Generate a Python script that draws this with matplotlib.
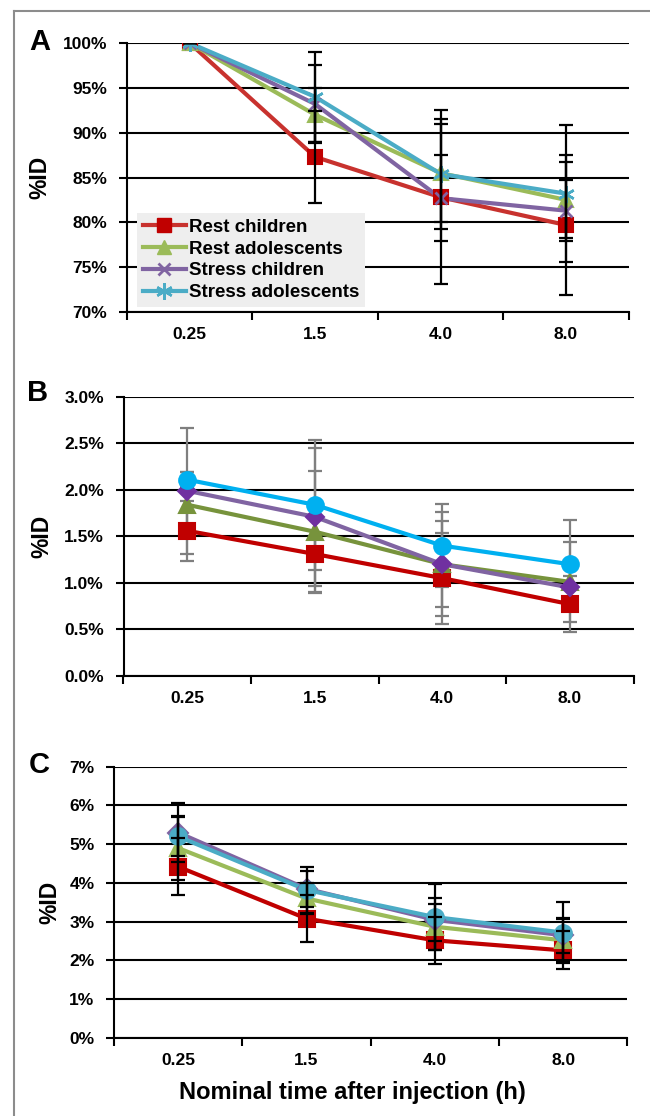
import matplotlib
matplotlib.use("Agg")
import matplotlib.pyplot as plt
from matplotlib.lines import Line2D
import numpy as np

plt.rcParams['font.family'] = ['Liberation Sans', 'DejaVu Sans']
plt.rcParams['font.weight'] = 'bold'

# ---------------- data ----------------
times = ["0.25", "1.5", "4.0", "8.0"]
series_names = ["Rest children", "Rest adolescents", "Stress children", "Stress adolescents"]

# Panel A (%ID, normalised)
a_rest_children = [100, 87.3, 82.8, 79.7]
a_rest_children_err = [0, 5.1, 9.7, 7.8]
a_rest_adol = [100, 92.0, 85.5, 82.5]
a_rest_adol_err = [0, 3.0, 5.5, 4.2]
a_stress_children = [100, 93.2, 82.7, 81.3]
a_stress_children_err = [0, 4.3, 4.8, 3.4]
a_stress_adol = [100, 94.0, 85.4, 83.2]
a_stress_adol_err = [0, 5.0, 6.1, 7.6]

# Panel B (%ID)
b_rest_children = [1.56, 1.31, 1.05, 0.77]
b_rest_children_err = [0.32, 0.42, 0.49, 0.30]
b_rest_adol = [1.84, 1.55, 1.20, 1.01]
b_rest_adol_err = [0.35, 0.65, 0.46, 0.43]
b_stress_children = [1.99, 1.71, 1.20, 0.95]
b_stress_children_err = [0.68, 0.74, 0.56, 0.20]
b_stress_adol = [2.11, 1.84, 1.40, 1.20]
b_stress_adol_err = [0.08, 0.70, 0.45, 0.48]

# Panel C (%ID)
c_rest_children = [4.42, 3.08, 2.52, 2.26]
c_rest_children_err = [0.74, 0.60, 0.60, 0.49]
c_rest_adol = [4.90, 3.60, 2.87, 2.52]
c_rest_adol_err = [0.83, 0.40, 0.60, 0.55]
c_stress_children = [5.30, 3.85, 3.05, 2.65]
c_stress_children_err = [0.76, 0.46, 0.55, 0.45]
c_stress_adol = [5.20, 3.82, 3.12, 2.72]
c_stress_adol_err = [0.51, 0.59, 0.86, 0.79]

a_ticks = [70, 75, 80, 85, 90, 95, 100]
a_ticklabels = ["70%", "75%", "80%", "85%", "90%", "95%", "100%"]
b_ticks = [0.0, 0.5, 1.0, 1.5, 2.0, 2.5, 3.0]
b_ticklabels = ["0.0%", "0.5%", "1.0%", "1.5%", "2.0%", "2.5%", "3.0%"]
c_ticks = [0, 1, 2, 3, 4, 5, 6, 7]
c_ticklabels = ["0%", "1%", "2%", "3%", "4%", "5%", "6%", "7%"]

xlabel = "Nominal time after injection (h)"

# ---------------- layout ----------------
W, H = 650, 1116
fig = plt.figure(figsize=(W / 100, H / 100), dpi=100)


def px_axes(left, right, top, bottom):
    return fig.add_axes([left / W, 1 - bottom / H, (right - left) / W, (bottom - top) / H])


def style_axes(ax, ticks, ticklabels, ylim, ylab_x_px, left_px, right_px):
    x = np.arange(len(times))
    ax.set_xlim(-0.5, len(times) - 0.5)
    ax.set_ylim(*ylim)
    ax.set_yticks(ticks)
    ax.set_yticklabels(ticklabels)
    ax.set_xticks(np.arange(-0.5, len(times), 1.0))
    ax.set_xticklabels([])
    ax.set_xticks(x, minor=True)
    ax.set_xticklabels(times, minor=True)
    ax.tick_params(axis='x', which='minor', length=0, pad=11, labelsize=12.5)
    ax.tick_params(axis='x', which='major', length=6, width=1.5, direction='out')
    ax.tick_params(axis='y', length=6, width=1.5, direction='out', pad=8, labelsize=12.5)
    for lab in ax.get_xticklabels(minor=True) + ax.get_yticklabels():
        lab.set_fontweight('bold')
    ax.grid(axis='y', color='black', linewidth=1.5, zorder=0)
    ax.set_axisbelow(True)
    for s in ['top', 'right']:
        ax.spines[s].set_visible(False)
    ax.spines['left'].set_linewidth(1.5)
    ax.spines['bottom'].set_linewidth(1.5)
    ax.set_ylabel("%ID", fontsize=16.5, fontweight='bold')
    ax.yaxis.set_label_coords((ylab_x_px - left_px) / (right_px - left_px), 0.5)


def plot_series(ax, vals, errs, line_color, marker, mcolor, msize, ecolor, label=None, mew=1.5, zo=3):
    x = np.arange(len(times))
    ax.errorbar(x, vals, yerr=errs, fmt='none', ecolor=ecolor, elinewidth=1.6,
                capsize=5, capthick=1.6, zorder=zo + 1 if ecolor == 'black' else zo - 1)
    ax.plot(x, vals, color=line_color, linewidth=3, zorder=zo, label=label)
    ax.plot(x, vals, linestyle='none', marker=marker, markersize=msize,
            markerfacecolor=mcolor, markeredgecolor=mcolor, markeredgewidth=mew, zorder=zo + 0.5)


# Panel A
A_L, A_R, A_T, A_B = 126.8, 628.8, 43, 312
axA = px_axes(A_L, A_R, A_T, A_B)
style_axes(axA, a_ticks, a_ticklabels, (70, 100), 51, A_L, A_R)
red_a, green_a, purple_a, aqua_a = '#C8322E', '#9BBB59', '#8064A2', '#4BACC6'
asterisk = (6, 2, 0)
plot_series(axA, a_rest_children, a_rest_children_err, red_a, 's', '#C00000', 10, 'black')
plot_series(axA, a_rest_adol, a_rest_adol_err, green_a, '^', green_a, 10, 'black')
plot_series(axA, a_stress_children, a_stress_children_err, purple_a, 'x', purple_a, 9, 'black', mew=2)
plot_series(axA, a_stress_adol, a_stress_adol_err, aqua_a, asterisk, aqua_a, 12, 'black', mew=1.8)

handles = [
    Line2D([], [], color=red_a, lw=3, marker='s', ms=10, mfc='#C00000', mec='#C00000'),
    Line2D([], [], color=green_a, lw=3, marker='^', ms=10, mfc=green_a, mec=green_a),
    Line2D([], [], color=purple_a, lw=3, marker='x', ms=9, mew=2, mec=purple_a),
    Line2D([], [], color=aqua_a, lw=3, marker=asterisk, ms=12, mew=1.8, mec=aqua_a),
]
leg = axA.legend(handles, series_names, loc='upper left',
                 bbox_to_anchor=((137 - A_L) / (A_R - A_L), (A_B - 213) / (A_B - A_T)),
                 frameon=True, fancybox=False, facecolor='#eeeeee', edgecolor='none', framealpha=1,
                 prop={'weight': 'bold', 'size': 13.5}, handlelength=2.3, handletextpad=0.15,
                 labelspacing=0.25, borderpad=0.3, borderaxespad=0)
leg.set_zorder(10)

# Panel B
B_L, B_R, B_T, B_B = 123.5, 633.6, 397, 675.7
axB = px_axes(B_L, B_R, B_T, B_B)
style_axes(axB, b_ticks, b_ticklabels, (0, 3.0), 53, B_L, B_R)
gray = '#7f7f7f'
plot_series(axB, b_rest_children, b_rest_children_err, '#C00000', 's', '#C00000', 11, gray)
plot_series(axB, b_rest_adol, b_rest_adol_err, '#77933C', '^', '#77933C', 11, gray)
plot_series(axB, b_stress_children, b_stress_children_err, '#8064A2', 'D', '#7030A0', 9, gray)
plot_series(axB, b_stress_adol, b_stress_adol_err, '#00B0F0', 'o', '#00B0F0', 12, gray)

# Panel C
C_L, C_R, C_T, C_B = 114, 627.4, 766.7, 1038
axC = px_axes(C_L, C_R, C_T, C_B)
style_axes(axC, c_ticks, c_ticklabels, (0, 7), 61, C_L, C_R)
plot_series(axC, c_rest_children, c_rest_children_err, '#C00000', 's', '#C00000', 11, 'black')
plot_series(axC, c_rest_adol, c_rest_adol_err, '#9BBB59', '^', '#9BBB59', 11, 'black')
plot_series(axC, c_stress_children, c_stress_children_err, '#8064A2', 'D', '#8064A2', 10, 'black')
plot_series(axC, c_stress_adol, c_stress_adol_err, '#4BACC6', 'o', '#4BACC6', 12, 'black')
axC.set_xlabel(xlabel, fontsize=17, fontweight='bold')
axC.xaxis.set_label_coords((352 - C_L) / (C_R - C_L), -(1081 - C_B) / (C_B - C_T))

# panel letters
for letter, (lx, ly) in zip("ABC", [(40, 42), (38, 393), (39, 765)]):
    fig.text(lx / W, 1 - ly / H, letter, fontsize=21, fontweight='bold', ha='center', va='center')

# figure border (left and top edges visible)
fig.add_artist(Line2D([13.5 / W, 13.5 / W], [0, 1 - 11 / H], transform=fig.transFigure,
                      color='#8c8c8c', lw=1.5))
fig.add_artist(Line2D([13.5 / W, 1], [1 - 11 / H, 1 - 11 / H], transform=fig.transFigure,
                      color='#8c8c8c', lw=1.5))

fig.savefig("out.png", dpi=100, facecolor='white')
